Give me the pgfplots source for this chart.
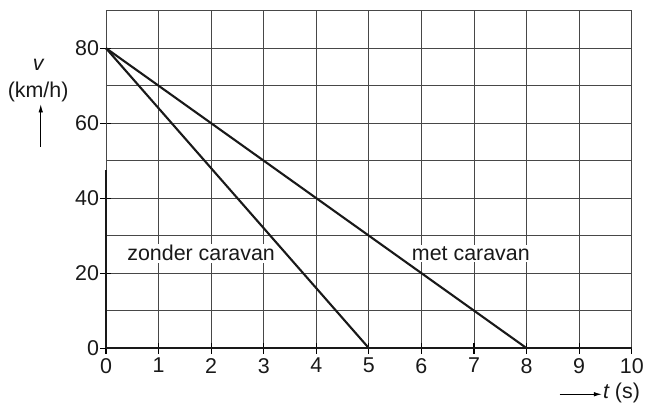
\documentclass[border=0pt]{standalone}
\usepackage{fontspec}
\setmainfont{Liberation Sans}
\usepackage{pgfplots}
\pgfplotsset{compat=1.18}
\usetikzlibrary{arrows.meta}
\begin{document}
\begin{tikzpicture}
\begin{axis}[
  scale only axis,
  width=526bp, height=337.6bp,
  xmin=0, xmax=10, ymin=0, ymax=90,
  xtick={0,1,...,10},
  ytick={0,20,40,60,80},
  minor ytick={10,30,50,70,90},
  grid=both,
  grid style={black!72, line width=0.75bp},
  minor grid style={black!72, line width=0.75bp},
  axis line style={black!72, line width=0.75bp},
  tick align=center,
  tick pos=left,
  major tick length=11bp,
  minor tick length=0pt,
  tick style={black, line width=1.1bp},
  /pgf/number format/assume math mode=true,
  ticklabel style={font=\fontsize{21.5}{25}\selectfont, text=black!90},
  yticklabel style={xshift=2bp},
  xticklabel style={yshift=-1bp},
  clip=false,
]
\addplot[black!90, line width=2.1bp] coordinates {(0,80) (5,0)};
\addplot[black!90, line width=2.1bp] coordinates {(0,80) (8,0)};
\draw[black!90, line width=1.6bp] (axis cs:0,0) -- (axis cs:10,0);
\draw[black!90, line width=1.6bp] (axis cs:0,0) -- (axis cs:0,47.5);
\node[fill=white, inner sep=1.5bp, font=\fontsize{21.5}{25}\selectfont, text=black!90] at (axis cs:1.81,25.3) {zonder caravan};
\node[fill=white, inner sep=1.5bp, font=\fontsize{21.5}{25}\selectfont, text=black!90] at (axis cs:6.94,25.3) {met caravan};
\node[font=\fontsize{21.5}{25}\selectfont\itshape, text=black!90] at (axis cs:-1.29,75.6) {v};
\node[font=\fontsize{21.5}{25}\selectfont, text=black!90] at (axis cs:-1.29,68.4) {(km/h)};
\draw[-{Latex[length=8bp,width=4.5bp]}, line width=0.8bp] (axis cs:-1.24,53.7) -- (axis cs:-1.24,65.0);
\draw[-{Latex[length=8bp,width=4.5bp]}, line width=0.8bp] (axis cs:8.63,-12.3) -- (axis cs:9.43,-12.3);
\node[anchor=west, inner sep=0pt, font=\fontsize{21.5}{25}\selectfont, text=black!90] at (axis cs:9.45,-12.0) {\itshape t\upshape\ (s)};
\end{axis}
\path ([xshift=-106bp,yshift=-52.7bp]current axis.south west) rectangle ([xshift=15bp,yshift=10.7bp]current axis.north east);
\end{tikzpicture}
\end{document}
